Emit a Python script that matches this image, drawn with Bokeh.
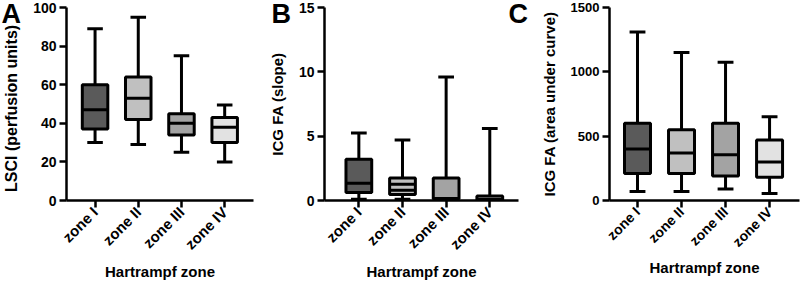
import math
from bokeh.plotting import figure
from bokeh.models import Range1d, FixedTicker, Label, ColumnDataSource, GridBox
from bokeh.embed import file_html
from bokeh.resources import INLINE

zones = ["zone I", "zone II", "zone III", "zone IV"]
zone_colors = ["#5a5a5a", "#c0c0c0", "#a3a3a3", "#e2e2e2"]
panel_letters = ["A", "B", "C"]

# Panel A: LSCI (perfusion units)
a_min = [30, 29, 25, 20]
a_q1 = [37, 42, 34, 30]
a_med = [47, 53, 40, 38]
a_q3 = [60, 64, 45, 43]
a_max = [89, 95, 75, 49.5]
a_ticks = [0, 20, 40, 60, 80, 100]

# Panel B: ICG FA (slope)
b_min = [0.1, 0.1, 0.05, 0.02]
b_q1 = [0.63, 0.47, 0.12, 0.03]
b_med = [1.34, 1.26, 0.15, 0.1]
b_q3 = [3.2, 1.75, 1.75, 0.35]
b_max = [5.25, 4.7, 9.6, 5.6]
b_extra = [None, 0.8, None, None]
b_ticks = [0, 5, 10, 15]

# Panel C: ICG FA (area under curve)
c_min = [70, 70, 90, 55]
c_q1 = [210, 210, 190, 180]
c_med = [400, 370, 355, 300]
c_q3 = [600, 550, 600, 470]
c_max = [1310, 1150, 1075, 650]
c_ticks = [0, 500, 1000, 1500]

FONT = "Liberation Sans"
W = 800
H = 282
TOP = 7
BOTTOM = 82


def panel(ylabel, ymin, q1, med, q3, ymax, ticks, width, left, frame_w, x_start, x_end,
          tick_size, xtick_size, ylab_size, extra=None):
    p = figure(width=width, height=H, output_backend="svg", toolbar_location=None,
               x_range=Range1d(x_start, x_end), y_range=Range1d(ticks[0], ticks[-1]),
               min_border_left=left, min_border_right=width - left - frame_w,
               min_border_top=TOP, min_border_bottom=BOTTOM)
    p.outline_line_color = None
    p.grid.visible = False
    xs = [1, 2, 3, 4]
    bw = 0.59
    cw = 0.36
    src = ColumnDataSource(dict(x=xs, lo=ymin, q1=q1, med=med, q3=q3, hi=ymax,
                                color=zone_colors,
                                bl=[x - bw / 2 for x in xs], br=[x + bw / 2 for x in xs],
                                cl=[x - cw / 2 for x in xs], cr=[x + cw / 2 for x in xs]))
    lw = 3
    p.segment(x0="x", y0="q3", x1="x", y1="hi", source=src, line_color="black", line_width=lw)
    p.segment(x0="x", y0="q1", x1="x", y1="lo", source=src, line_color="black", line_width=lw)
    p.segment(x0="cl", y0="hi", x1="cr", y1="hi", source=src, line_color="black", line_width=lw)
    p.segment(x0="cl", y0="lo", x1="cr", y1="lo", source=src, line_color="black", line_width=lw)
    p.vbar(x="x", width=bw, top="q3", bottom="q1", source=src, fill_color="color",
           line_color="black", line_width=lw)
    p.segment(x0="bl", y0="med", x1="br", y1="med", source=src, line_color="black", line_width=lw)
    if extra is not None:
        ex = [x for x, e in zip(xs, extra) if e is not None]
        ev = [e for e in extra if e is not None]
        p.segment(x0=[x - bw / 2 for x in ex], y0=ev, x1=[x + bw / 2 for x in ex], y1=ev,
                  line_color="black", line_width=lw)

    for ax in (p.xaxis[0], p.yaxis[0]):
        ax.axis_line_width = 2.5
        ax.axis_line_color = "black"
        ax.major_tick_line_width = 2.5
        ax.major_tick_line_color = "black"
        ax.major_tick_out = 7
        ax.major_tick_in = 0
        ax.minor_tick_line_color = None
        ax.major_label_text_font = FONT
        ax.major_label_text_font_style = "bold"
        ax.major_label_text_color = "black"
        ax.axis_label_text_font = FONT
        ax.axis_label_text_font_style = "bold"
        ax.axis_label_text_color = "black"
    p.yaxis[0].major_label_text_font_size = f"{tick_size}px"
    p.xaxis[0].major_label_text_font_size = f"{xtick_size}px"
    p.yaxis[0].ticker = FixedTicker(ticks=ticks)
    p.yaxis[0].axis_label = ylabel
    p.yaxis[0].axis_label_text_font_size = f"{ylab_size}px"
    p.yaxis[0].major_label_standoff = 3
    p.yaxis[0].axis_label_standoff = 10
    p.xaxis[0].ticker = FixedTicker(ticks=xs)
    p.xaxis[0].major_label_overrides = {i + 1: z for i, z in enumerate(zones)}
    p.xaxis[0].major_label_orientation = math.pi / 4
    p.xaxis[0].major_label_standoff = 2
    p.xaxis[0].axis_label = "Hartrampf zone"
    p.xaxis[0].axis_label_text_font_size = "15px"
    p.xaxis[0].axis_label_standoff = 1
    return p


pa = panel("LSCI (perfusion units)\u00a0\u00a0", a_min, a_q1, a_med, a_q3, a_max, a_ticks,
           265, 63, 190, 0.339, 4.667, 14, 15, 16)
pb = panel("ICG FA (slope)", b_min, b_q1, b_med, b_q3, b_max, b_ticks,
           265, 57, 196, 0.213, 4.658, 14, 15, 15, extra=b_extra)
pc = panel("ICG FA (area under curve)", c_min, c_q1, c_med, c_q3, c_max, c_ticks,
           270, 79, 190, 0.364, 4.68, 13, 14, 15)

# transparent overlay carrying the panel letters (canvas pixel coordinates)
ov = figure(width=W, height=H, output_backend="svg", toolbar_location=None,
            x_range=Range1d(0, W), y_range=Range1d(H, 0),
            x_axis_type=None, y_axis_type=None,
            min_border_left=0, min_border_right=0, min_border_top=0, min_border_bottom=0)
ov.frame_align = False
ov.outline_line_color = None
ov.grid.visible = False
ov.background_fill_alpha = 0
ov.border_fill_alpha = 0
letter_x = [1, 271, 508]
for t, lx in zip(panel_letters, letter_x):
    ov.add_layout(Label(x=lx, y=-2, text=t, text_font=FONT, text_font_style="bold",
                        text_font_size="27px", text_color="black",
                        text_baseline="top", text_align="left"))

layout = GridBox(children=[(pa, 0, 0), (pb, 0, 1), (pc, 0, 2), (ov, 0, 0, 1, 3)])
open("out.html", "w").write(file_html(layout, INLINE))
